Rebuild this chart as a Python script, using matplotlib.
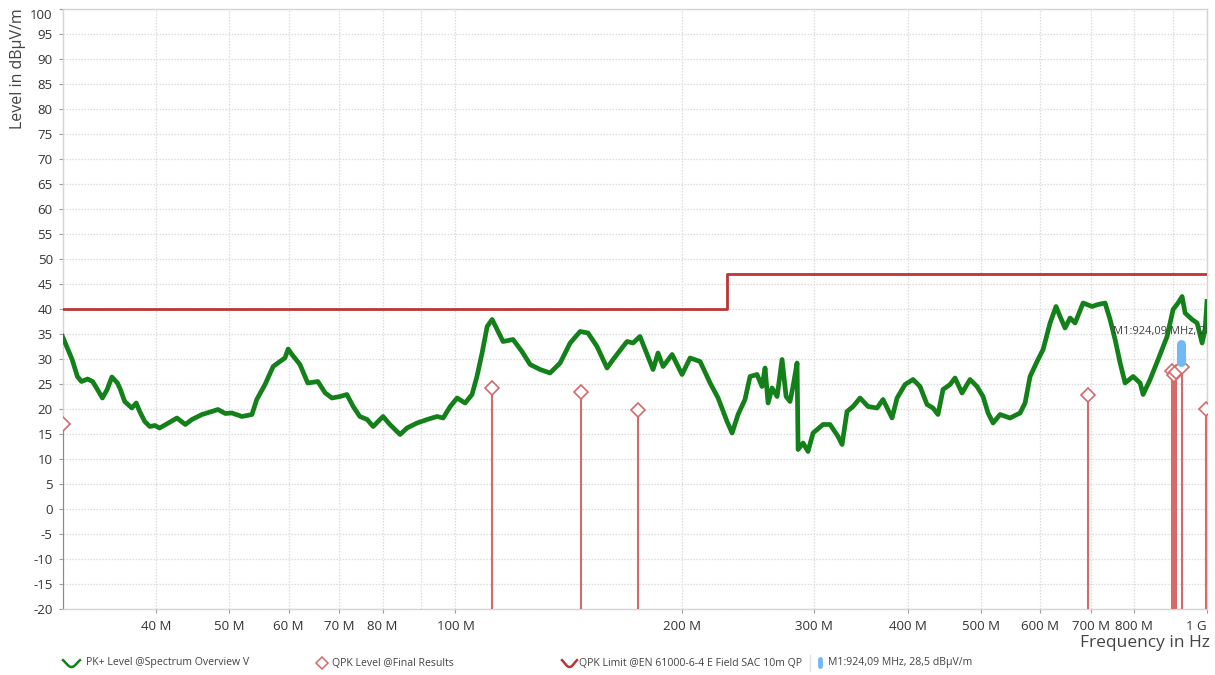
import numpy as np
import matplotlib
matplotlib.use("Agg")
import matplotlib.pyplot as plt
from matplotlib.lines import Line2D
from matplotlib.ticker import FixedLocator, FixedFormatter

plt.rcParams['font.family'] = ['Open Sans', 'DejaVu Sans']

# ---- data (MHz, dBuV/m) ----
pk_freq = [30.0, 30.5, 30.9, 31.4, 31.8, 32.4, 32.9, 33.3, 33.9, 34.4, 34.9, 35.5, 35.8, 36.3,
           37.1, 37.6, 38.0, 38.6, 39.2, 39.8, 40.4, 41.5, 42.6, 43.7, 44.6, 46.0, 47.4, 48.3,
           49.4, 50.4, 52.0, 53.6, 54.4, 55.8, 57.2, 58.4, 59.3, 59.9, 60.6, 62.1, 63.6, 65.6,
           67.1, 68.5, 70.2, 71.7, 73.1, 74.6, 76.3, 77.7, 80.1, 81.8, 84.4, 86.2, 88.9, 91.7,
           94.5, 96.3, 98.4, 100.5, 103.0, 105.2, 106.8, 108.5, 110.2, 111.9, 113.6, 115.7,
           119.3, 122.6, 125.7, 129.6, 133.6, 137.8, 142.1, 146.5, 150.1, 154.3, 159.1, 162.1,
           167.1, 169.2, 172.3, 176.0, 178.8, 183.2, 186.0, 188.9, 194.2, 200.2, 205.2, 211.6,
           218.2, 223.6, 229.8, 233.4, 237.7, 242.8, 246.6, 251.9, 255.8, 258.2, 260.6, 263.8,
           267.9, 272.0, 275.4, 278.7, 281.3, 284.8, 285.7, 290.1, 294.5, 299.1, 308.4, 315.1,
           322.9, 326.9, 331.9, 338.1, 345.4, 354.0, 363.9, 370.6, 381.0, 386.9, 396.5, 406.3,
           415.1, 424.1, 431.9, 438.6, 445.4, 455.1, 462.1, 472.1, 483.8, 494.3, 503.5, 511.3,
           519.2, 530.4, 546.9, 564.0, 572.7, 581.5, 594.1, 605.2, 618.3, 629.7, 637.5, 647.3,
           657.4, 667.5, 684.1, 703.2, 716.3, 731.8, 743.1, 754.6, 766.3, 778.1, 797.4, 814.7,
           822.2, 840.0, 860.9, 884.9, 901.3, 915.2, 926.5, 935.1, 955.4, 970.1, 985.1, 994.2,
           1000.0]
pk_level = [34.5, 31.9, 29.9, 26.5, 25.5, 26.0, 25.5, 24.2, 22.2, 23.9, 26.4, 25.2, 24.0, 21.5,
            20.2, 21.2, 19.5, 17.5, 16.5, 16.7, 16.2, 17.2, 18.2, 16.9, 17.9, 18.9, 19.5, 19.9,
            19.1, 19.2, 18.5, 18.9, 21.9, 24.9, 28.5, 29.5, 30.2, 32.0, 30.9, 28.9, 25.2, 25.5,
            23.2, 22.2, 22.5, 22.9, 20.5, 18.5, 17.9, 16.5, 18.5, 16.9, 14.9, 16.2, 17.2, 17.9,
            18.5, 18.2, 20.5, 22.2, 21.2, 22.9, 26.5, 31.2, 36.5, 37.9, 35.9, 33.5,
            33.9, 31.5, 28.9, 27.9, 27.2, 29.2, 33.2, 35.5, 35.2, 32.5, 28.2, 29.9,
            32.5, 33.5, 33.2, 34.5, 31.9, 27.9, 31.2, 28.5, 30.9, 26.9, 30.2, 29.5,
            25.2, 22.2, 17.5, 15.2, 18.9, 21.9, 26.5, 26.9, 24.5, 28.2, 21.2, 24.2,
            22.5, 29.9, 22.5, 21.5, 24.5, 29.2, 11.9, 13.2, 11.5, 15.2, 16.9, 16.9,
            14.5, 12.9, 19.5, 20.5, 22.2, 20.5, 20.2, 21.9, 18.2, 22.2, 24.9, 25.9,
            24.5, 20.9, 20.2, 18.9, 23.9, 24.9, 26.2, 23.2, 25.9, 24.5, 22.5, 19.2,
            17.2, 18.9, 18.2, 19.2, 21.2, 26.5, 29.5, 31.9, 37.2, 40.5, 38.5, 36.2,
            38.2, 37.2, 41.2, 40.5, 40.9, 41.2, 37.9, 33.9, 29.2, 25.2, 26.5, 25.2,
            22.9, 25.9, 29.9, 34.5, 39.9, 41.2, 42.5, 39.2, 37.9, 37.2, 33.2, 35.9,
            41.5]

qpk_freq = [30.0, 111.9, 146.9, 175.0, 694.6, 898.5, 904.0, 909.6, 926.0, 998.0]
qpk_level = [17.1, 24.2, 23.5, 19.8, 22.9, 27.6, 26.9, 27.4, 28.4, 20.1]

limit_freq = [30.0, 230.0, 230.0, 1000.0]
limit_level = [40.0, 40.0, 47.0, 47.0]

marker_freq = 924.09
marker_level = 28.5
marker_text = "M1:924,09 MHz, 28,5 dB\u03bcV/m"

xtick_vals = [40, 50, 60, 70, 80, 100, 200, 300, 400, 500, 600, 700, 800, 1000]
xtick_labels = ["40 M", "50 M", "60 M", "70 M", "80 M", "100 M", "200 M", "300 M",
                "400 M", "500 M", "600 M", "700 M", "800 M", "1 G"]
xgrid_extra = [90, 900]
ytick_vals = list(range(-20, 101, 5))

legend_labels = ["PK+ Level @Spectrum Overview V", "QPK Level @Final Results",
                 "QPK Limit @EN 61000-6-4 E Field SAC 10m QP", "M1:924,09 MHz, 28,5 dB\u03bcV/m"]

# ---- colors ----
GREEN = '#13801a'
LIMIT_RED = '#bb3535'
STEM_RED = '#d46a6a'
BLUE = '#72b9f4'
GRID = '#dcdcdc'

W, H = 1215, 675
fig = plt.figure(figsize=(W / 100, H / 100), dpi=100)
ax = fig.add_axes([62.5 / W, 1 - 609 / H, 1144.5 / W, 600 / H])
ax.set_xscale('log')
ax.set_xlim(30, 1000)
ax.set_ylim(-20, 100)

# ticks & grid
ax.set_xticks(xtick_vals)
ax.set_xticklabels(xtick_labels)
ax.xaxis.set_minor_locator(FixedLocator(xgrid_extra))
ax.xaxis.set_minor_formatter(FixedFormatter(["", ""]))
ax.tick_params(axis='x', which='minor', length=0)
ax.set_yticks(ytick_vals)
ax.set_yticklabels([str(v) for v in ytick_vals])
ax.grid(True, which='both', axis='x', color=GRID, linestyle=(0, (1.2, 1.2)), linewidth=0.9)
ax.grid(True, which='major', axis='y', color=GRID, linestyle=(0, (1.2, 1.2)), linewidth=0.9)
ax.set_axisbelow(True)

for s in ax.spines.values():
    s.set_color('#d4d4d4')
    s.set_linewidth(1.0)

ax.tick_params(axis='both', which='major', colors='#9a9a9a', labelcolor='#333333',
               labelsize=9.5, length=3, width=0.8)
ax.tick_params(axis='x', which='major', pad=5)
ax.tick_params(axis='y', which='major', pad=4)
for t in ax.get_yticklabels():
    if t.get_text() == '100':
        t.set_va('top')
for t in ax.get_xticklabels():
    if t.get_text() == '1 G':
        t.set_ha('right')

# QPK stems & diamonds
ax.vlines(qpk_freq, -20, qpk_level, colors=STEM_RED, linewidth=1.5, zorder=3)
ax.plot(qpk_freq, qpk_level, linestyle='none', marker='D', markersize=7.5,
        markerfacecolor='white', markeredgecolor=STEM_RED, markeredgewidth=1.2, zorder=4)

# limit line
ax.plot(limit_freq, limit_level, color=LIMIT_RED, linewidth=2.0, zorder=3)

# PK trace
ax.plot(pk_freq, pk_level, color=GREEN, linewidth=3.4, solid_joinstyle='round', zorder=5)

# marker M1
ax.plot([marker_freq, marker_freq], [marker_level + 1.0, marker_level + 4.6], color=BLUE,
        linewidth=6.5, solid_capstyle='round', zorder=6)
ax.text(750, 35.5, marker_text, fontsize=8, color='#404040', va='center', ha='left',
        clip_on=True, zorder=7)

# axis titles
fig.text(1210 / W, 1 - 643 / H, "Frequency in Hz", ha='right', va='center',
         fontsize=12.5, color='#444444')
fig.text(18 / W, 1 - 8 / H, "Level in dB\u03bcV/m", ha='center', va='top', rotation=90,
         fontsize=11.5, color='#444444')

# ---- legend row ----
ly = 1 - 663 / H


def wave(x0, x1, color):
    t = np.linspace(0, 1, 30)
    xs = (x0 + (x1 - x0) * t) / W
    yy = ly - (4.0 * np.sin(np.pi * (1.5 * t - 0.25))) / H
    fig.add_artist(Line2D(xs, yy, color=color, linewidth=1.8, transform=fig.transFigure))


wave(63, 80, GREEN)
fig.text(86 / W, ly, legend_labels[0], fontsize=7.6, color='#444444', va='center', ha='left')
fig.add_artist(Line2D([322 / W], [ly], marker='D', markersize=6.5, markerfacecolor='white',
                      markeredgecolor=STEM_RED, markeredgewidth=1.1, transform=fig.transFigure))
fig.text(332 / W, ly, legend_labels[1], fontsize=7.6, color='#444444', va='center', ha='left')
wave(562, 577, LIMIT_RED)
fig.text(579 / W, ly, legend_labels[2], fontsize=7.6, color='#444444', va='center', ha='left')
fig.add_artist(Line2D([810 / W, 810 / W], [ly - 8 / H, ly + 8 / H], color='#e3e3e3',
                      linewidth=1.0, transform=fig.transFigure))
fig.add_artist(Line2D([820 / W, 820 / W], [ly - 3 / H, ly + 4 / H], color=BLUE,
                      linewidth=3.5, solid_capstyle='round', transform=fig.transFigure))
fig.text(828 / W, ly, legend_labels[3], fontsize=7.6, color='#444444', va='center', ha='left')

fig.savefig("out.png", dpi=100, facecolor='white')
